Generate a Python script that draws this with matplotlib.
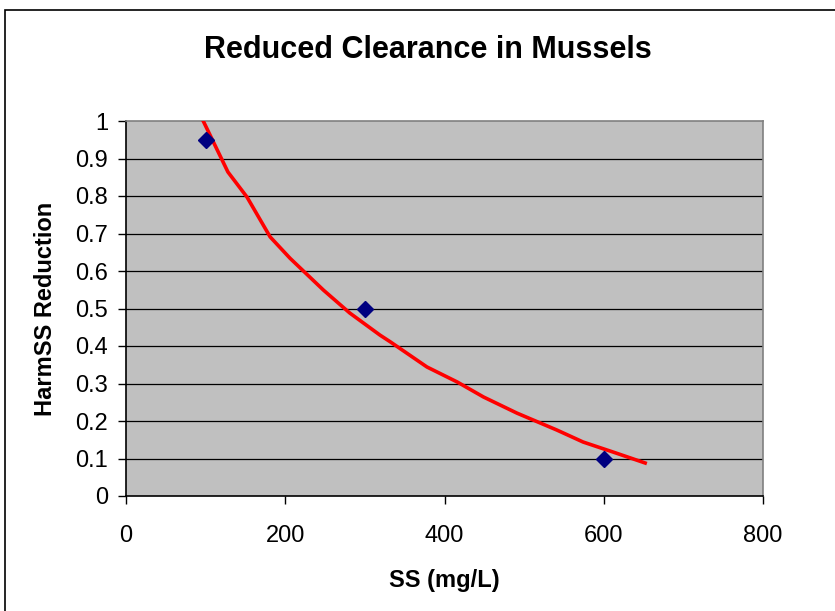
"""Reduced clearance in mussels: observed points and fitted curve."""

import matplotlib
matplotlib.use("Agg")
import matplotlib.pyplot as plt
from matplotlib.patches import Rectangle

plt.rcParams['font.family'] = ['Liberation Sans', 'DejaVu Sans']

# observed points
ss_obs = [100, 300, 600]
red_obs = [0.95, 0.5, 0.1]

# fitted curve
ss_fit = [97, 128, 152, 181, 206, 248, 281, 319, 332, 378, 416, 449, 491,
          541, 574, 612, 652]
red_fit = [1.0, 0.864, 0.797, 0.691, 0.634, 0.549, 0.488, 0.429, 0.411,
           0.344, 0.304, 0.264, 0.221, 0.176, 0.144, 0.117, 0.088]

fig = plt.figure(figsize=(8.35, 6.11), dpi=100, facecolor='w')
ax = fig.add_axes([126/835, 1 - 496/611, 637/835, 375/611])

# outer chart frame (cut off at right and bottom)
fig.patches.append(Rectangle((5/835, -0.1), 1.2, 1 - 10/611 + 0.1,
                             transform=fig.transFigure, fill=False,
                             edgecolor='k', linewidth=1.2))

ax.set_facecolor('#c0c0c0')
for y in [0.1, 0.2, 0.3, 0.4, 0.5, 0.6, 0.7, 0.8, 0.9]:
    ax.axhline(y, color='k', linewidth=0.9, zorder=1)

ax.plot(ss_fit, red_fit, color='#ff0000', linewidth=2.6, zorder=3)
ax.plot(ss_obs, red_obs, linestyle='none', marker='D', markersize=8,
        color='#000080', zorder=4)

ax.set_xlim(0, 800)
ax.set_ylim(0, 1)
ax.set_xticks([0, 200, 400, 600, 800])
ax.set_yticks([0, 0.1, 0.2, 0.3, 0.4, 0.5, 0.6, 0.7, 0.8, 0.9, 1])
ax.set_yticklabels(['0', '0.1', '0.2', '0.3', '0.4', '0.5', '0.6', '0.7',
                    '0.8', '0.9', '1'])

for side in ['top', 'right']:
    ax.spines[side].set_color('#808080')
    ax.spines[side].set_linewidth(1.2)
for side in ['left', 'bottom']:
    ax.spines[side].set_color('k')
    ax.spines[side].set_linewidth(1.2)

ax.tick_params(axis='both', direction='out', length=6, width=1,
               labelsize=17, color='k')
ax.tick_params(axis='x', pad=15)
ax.tick_params(axis='y', pad=7)

ax.set_xlabel('SS (mg/L)', fontsize=17, fontweight='bold', labelpad=16)
ax.set_ylabel('HarmSS Reduction', fontsize=17, fontweight='bold',
              labelpad=13)
fig.text(428/835, 1 - 50/611, 'Reduced Clearance in Mussels', fontsize=22,
         fontweight='bold', ha='center', va='center')

plt.savefig('out.png', dpi=100)
